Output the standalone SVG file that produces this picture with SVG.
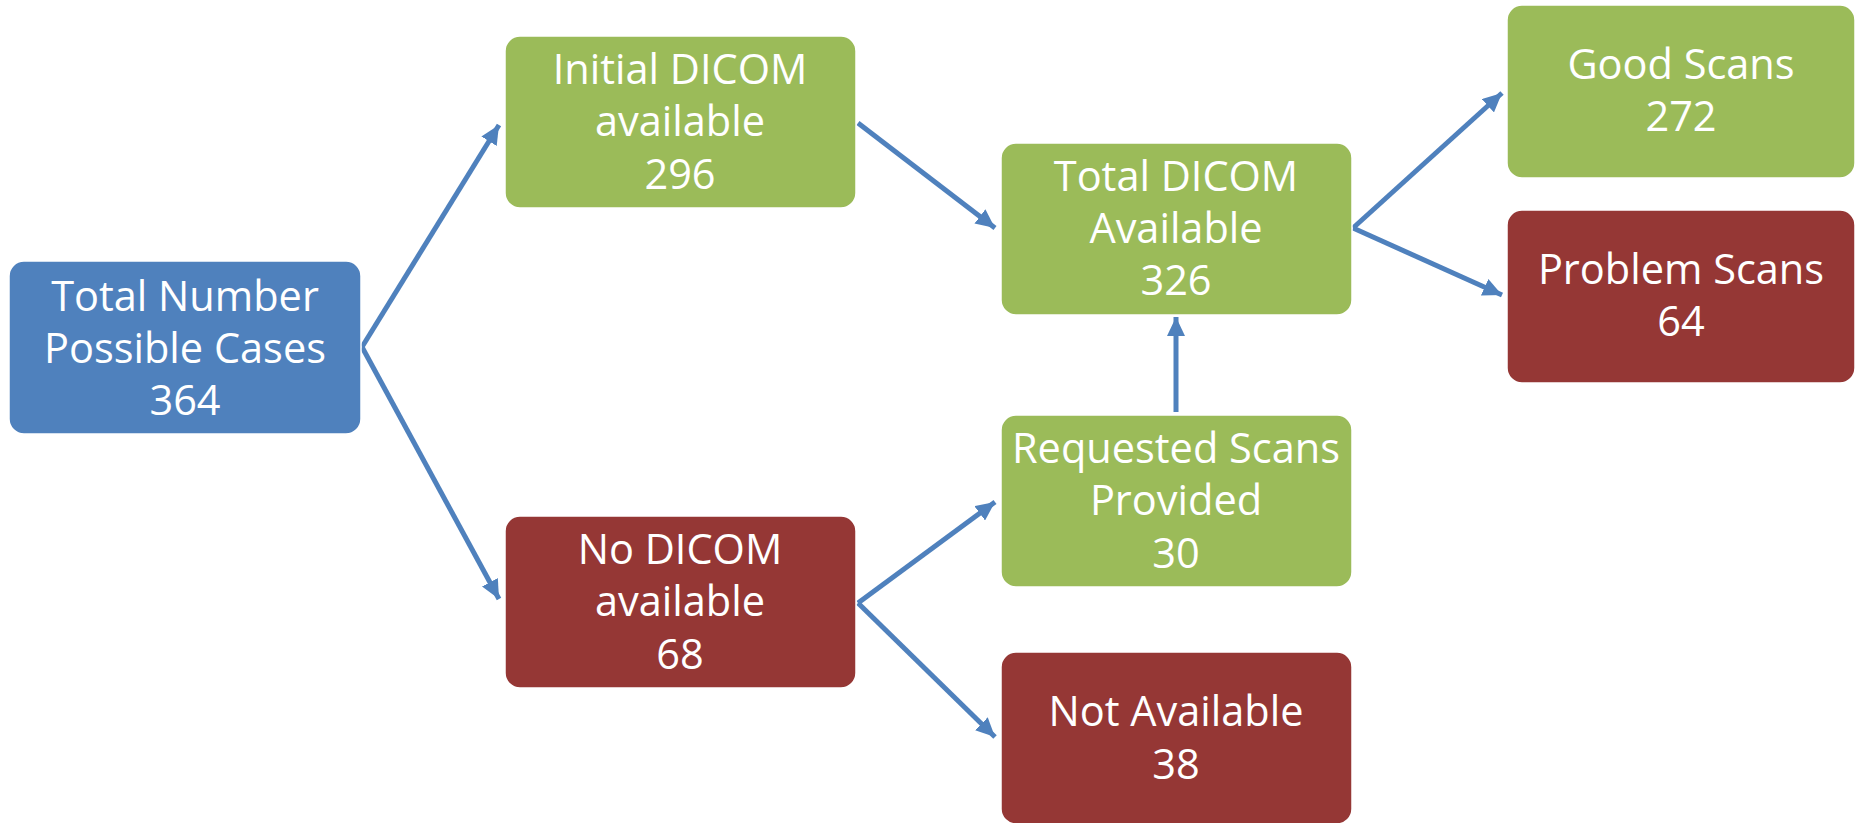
<svg xmlns="http://www.w3.org/2000/svg" width="1856" height="823" viewBox="0 0 1856 823">
<style>
.box{stroke:#ffffff;stroke-width:1.5}
.blue{fill:#4F81BD}
.green{fill:#9BBB59}
.red{fill:#953735}
.t{font-family:"Open Sans","Noto Sans","Liberation Sans",sans-serif;font-size:41.5px;fill:#ffffff;text-anchor:middle}
.c{stroke:#4F81BD;stroke-width:5;fill:none}
</style>
<defs>
<marker id="ah" markerUnits="userSpaceOnUse" markerWidth="22" markerHeight="18" refX="19" refY="9" orient="auto">
<path d="M0,0 L19,9 L0,18 Z" fill="#4F81BD"/>
</marker>
</defs>
<g id="connectors">
<line class="c" x1="362" y1="347" x2="499" y2="125" marker-end="url(#ah)"/>
<line class="c" x1="362" y1="347" x2="499" y2="599" marker-end="url(#ah)"/>
<line class="c" x1="858" y1="123" x2="995" y2="228" marker-end="url(#ah)"/>
<line class="c" x1="858" y1="603" x2="995" y2="502" marker-end="url(#ah)"/>
<line class="c" x1="858" y1="603" x2="995" y2="737" marker-end="url(#ah)"/>
<line class="c" x1="1176" y1="412" x2="1176" y2="317" marker-end="url(#ah)"/>
<line class="c" x1="1353" y1="228" x2="1502" y2="93" marker-end="url(#ah)"/>
<line class="c" x1="1353" y1="228" x2="1502" y2="295" marker-end="url(#ah)"/>
</g>
<g id="total-number">
<rect class="box blue" x="9" y="261" width="352" height="173" rx="15"/>
<text class="t" x="185" y="311">Total Number</text>
<text class="t" x="185" y="363">Possible Cases</text>
<text class="t" x="185" y="415">364</text>
</g>
<g id="initial-dicom">
<rect class="box green" x="505" y="36" width="351" height="172" rx="15"/>
<text class="t" x="680" y="84">Initial DICOM</text>
<text class="t" x="680" y="136">available</text>
<text class="t" x="680" y="189">296</text>
</g>
<g id="no-dicom">
<rect class="box red" x="505" y="516" width="351" height="172" rx="15"/>
<text class="t" x="680" y="564">No DICOM</text>
<text class="t" x="680" y="616">available</text>
<text class="t" x="680" y="669">68</text>
</g>
<g id="total-dicom">
<rect class="box green" x="1001" y="143" width="351" height="172" rx="15"/>
<text class="t" x="1176" y="191">Total DICOM</text>
<text class="t" x="1176" y="243">Available</text>
<text class="t" x="1176" y="295">326</text>
</g>
<g id="requested">
<rect class="box green" x="1001" y="415" width="351" height="172" rx="15"/>
<text class="t" x="1176" y="463">Requested Scans</text>
<text class="t" x="1176" y="515">Provided</text>
<text class="t" x="1176" y="568">30</text>
</g>
<g id="not-available">
<rect class="box red" x="1001" y="652" width="351" height="172" rx="15"/>
<text class="t" x="1176" y="726">Not Available</text>
<text class="t" x="1176" y="779">38</text>
</g>
<g id="good-scans">
<rect class="box green" x="1507" y="5" width="348" height="173" rx="15"/>
<text class="t" x="1681" y="79">Good Scans</text>
<text class="t" x="1681" y="131">272</text>
</g>
<g id="problem-scans">
<rect class="box red" x="1507" y="210" width="348" height="173" rx="15"/>
<text class="t" x="1681" y="284">Problem Scans</text>
<text class="t" x="1681" y="336">64</text>
</g>
</svg>
